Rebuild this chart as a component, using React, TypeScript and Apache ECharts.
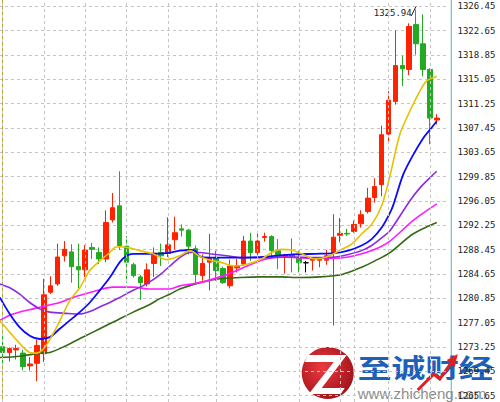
import React, { useEffect, useRef } from 'react';
import * as echarts from 'echarts';

// ---- data ----
const bars: string[] = Array.from({ length: 65 }, (_, i) => String(i + 1));

const opens = [1273.3, 1272.4, 1272.8, 1272.3, 1270.3, 1270.7, 1272.2, 1281.8, 1283.1, 1287.5,
  1288.1, 1285.8, 1285.3, 1288.8, 1288.0, 1287.0, 1293.1, 1295.3, 1289.0, 1286.1,
  1284.2, 1283.1, 1286.3, 1288.0, 1287.9, 1290.0, 1291.7, 1291.5, 1288.6, 1284.4,
  1286.5, 1287.2, 1285.5, 1282.8, 1285.6, 1286.2, 1289.8, 1288.0, 1290.35, 1290.5,
  1288.3, 1287.4, 1287.7, 1287.2, 1286.4, 1286.8, 1286.8, 1286.8, 1287.9, 1290.7,
  1291.0, 1291.3, 1292.5, 1294.4, 1296.6, 1298.6, 1306.5, 1311.6, 1317.2, 1316.6,
  1323.6, 1320.6, 1316.6, 1308.7];
const closes = [1272.4, 1273.0, 1273.0, 1270.2, 1270.6, 1273.5, 1281.4, 1282.8, 1287.3, 1288.5,
  1285.8, 1285.3, 1288.4, 1288.5, 1287.0, 1292.7, 1295.0, 1289.1, 1286.5, 1284.4,
  1283.3, 1285.3, 1287.9, 1287.5, 1289.2, 1291.1, 1291.5, 1289.0, 1284.6, 1286.3,
  1287.1, 1285.2, 1283.3, 1285.9, 1285.9, 1289.8, 1288.0, 1289.8, 1290.5, 1288.3,
  1287.6, 1287.6, 1287.3, 1286.4, 1286.4, 1286.95, 1287.0, 1287.5, 1290.4, 1291.0,
  1290.9, 1292.4, 1293.9, 1296.5, 1298.3, 1306.4, 1311.8, 1317.2, 1316.7, 1323.3,
  1320.6, 1316.6, 1309.0, 1309.0];
const lows = [1270.7, 1271.0, 1271.3, 1269.6, 1269.6, 1267.9, 1270.9, 1281.5, 1282.8, 1286.6,
  1283.3, 1282.4, 1284.2, 1287.0, 1286.2, 1286.5, 1292.7, 1288.4, 1283.3, 1284.1,
  1280.6, 1282.7, 1284.2, 1285.9, 1287.3, 1288.5, 1290.5, 1287.7, 1283.2, 1283.6,
  1282.1, 1283.6, 1283.1, 1282.4, 1284.9, 1285.9, 1286.7, 1287.5, 1289.7, 1287.5,
  1285.4, 1284.7, 1284.9, 1284.9, 1284.9, 1285.2, 1285.7, 1286.1, 1276.6, 1289.6,
  1290.6, 1291.1, 1291.9, 1294.1, 1295.8, 1296.8, 1305.4, 1311.1, 1314.0, 1315.7,
  1318.9, 1315.5, 1304.9, 1308.0];
const highs = [1275.0, 1273.2, 1273.6, 1272.8, 1271.7, 1274.4, 1283.9, 1284.3, 1289.4, 1289.8,
  1289.3, 1289.4, 1289.2, 1289.5, 1288.8, 1294.6, 1297.3, 1300.7, 1290.6, 1286.4,
  1284.5, 1286.3, 1288.8, 1289.4, 1293.5, 1293.6, 1292.4, 1291.7, 1289.1, 1287.7,
  1290.9, 1288.3, 1285.8, 1286.9, 1287.0, 1290.6, 1291.1, 1290.9, 1291.1, 1290.7,
  1290.1, 1287.8, 1290.2, 1288.3, 1286.7, 1287.1, 1287.2, 1288.4, 1294.0, 1293.4,
  1291.7, 1293.0, 1294.6, 1298.1, 1299.6, 1307.8, 1313.2, 1322.7, 1318.7, 1323.8,
  1325.94, 1325.2, 1316.8, 1309.6];

// moving averages: [bar position, price]
const maYellow = [[-0.39, 1277.4], [2.51, 1273.8], [3.96, 1272.4], [4.98, 1272.3], [6.14, 1273.2],
  [7.84, 1276.3], [9.77, 1280.5], [11.22, 1282.5], [12.67, 1285.2], [14.12, 1286.7], [15.57, 1288.0],
  [16.3, 1288.8], [17.02, 1288.9], [18.48, 1288.7], [19.93, 1288.3], [21.81, 1287.8], [23.8, 1286.9],
  [25.73, 1287.5], [27.18, 1288.3], [28.64, 1287.4], [30.09, 1286.8], [31.54, 1286.5], [33.72, 1285.9],
  [35.6, 1286.2], [37.59, 1287.0], [39.04, 1288.0], [40.49, 1288.5], [41.95, 1288.4], [43.4, 1287.8],
  [45.33, 1287.0], [47.22, 1287.4], [49.2, 1288.5], [50.65, 1289.3], [52.1, 1290.9], [53.56, 1292.4],
  [55.01, 1295.3], [56.21, 1300.0], [57.66, 1306.5], [59.11, 1310.1], [60.56, 1313.2], [61.54, 1314.8],
  [62.99, 1315.5]];
const maBlue = [[-0.39, 1281.0], [1.06, 1278.4], [2.51, 1276.3], [3.96, 1275.0], [5.41, 1274.5],
  [6.87, 1274.8], [8.32, 1276.1], [9.77, 1277.4], [11.22, 1278.7], [12.67, 1280.2], [14.12, 1282.1],
  [15.57, 1284.1], [17.02, 1286.5], [18.0, 1287.5], [18.96, 1287.8], [21.38, 1287.8], [23.8, 1287.9],
  [25.73, 1288.3], [27.18, 1288.4], [27.91, 1288.3], [28.64, 1287.4], [30.09, 1287.2], [32.51, 1287.2],
  [37.34, 1287.3], [42.18, 1287.7], [45.33, 1287.8], [48.23, 1287.9], [50.16, 1288.3], [52.1, 1289.1],
  [53.56, 1290.1], [55.01, 1291.9], [56.21, 1294.2], [56.69, 1295.4], [58.14, 1300.2], [59.6, 1303.3],
  [61.05, 1305.9], [62.02, 1307.2], [63.0, 1308.5]];
const maPurple = [[-0.39, 1283.1], [1.06, 1282.5], [2.51, 1281.5], [3.96, 1280.2], [5.41, 1279.2],
  [6.87, 1278.7], [9.29, 1278.5], [11.22, 1278.4], [12.67, 1278.8], [14.12, 1279.5], [15.57, 1280.2],
  [17.02, 1281.0], [18.96, 1282.1], [20.9, 1283.1], [22.83, 1284.5], [24.28, 1285.9], [25.73, 1287.2],
  [27.18, 1288.0], [28.64, 1288.0], [30.09, 1287.8], [32.51, 1287.5], [34.92, 1287.2], [37.34, 1287.2],
  [42.18, 1287.3], [45.33, 1287.2], [48.23, 1287.3], [50.16, 1287.7], [52.1, 1288.3], [53.56, 1289.1],
  [55.01, 1290.3], [56.21, 1291.4], [59.11, 1296.1], [60.56, 1298.1], [62.02, 1299.7], [63.0, 1300.7]];
const maMagenta = [[-0.39, 1277.4], [1.06, 1278.2], [2.51, 1278.7], [4.44, 1279.2], [6.39, 1279.7],
  [8.32, 1280.2], [10.25, 1281.0], [12.19, 1281.6], [14.12, 1282.2], [16.05, 1282.6], [18.96, 1282.6],
  [21.38, 1282.3], [24.28, 1282.3], [25.73, 1282.8], [28.64, 1283.3], [31.54, 1284.2], [34.44, 1285.4],
  [37.34, 1286.7], [38.79, 1287.1], [40.25, 1287.3], [45.33, 1287.1], [48.23, 1287.1], [50.16, 1287.3],
  [52.1, 1287.8], [54.03, 1288.5], [56.21, 1289.8], [59.55, 1293.0], [63.0, 1295.6]];
const maGreen = [[-0.39, 1271.6], [2.51, 1271.8], [5.41, 1272.3], [6.87, 1272.4], [9.29, 1273.5],
  [11.7, 1274.8], [14.12, 1276.1], [16.55, 1277.4], [18.96, 1278.7], [21.38, 1279.9], [22.83, 1280.8],
  [24.28, 1281.5], [25.73, 1282.3], [28.64, 1283.3], [31.54, 1283.9], [34.44, 1284.1], [37.34, 1284.2],
  [40.25, 1284.2], [43.15, 1284.1], [46.05, 1284.2], [48.96, 1284.5], [50.16, 1284.9], [52.1, 1285.7],
  [54.03, 1286.7], [56.21, 1288.0], [59.55, 1290.9], [63.0, 1292.7]];

// bars where the vertical grid lines fall
const gridBars = [0, 6, 12, 18, 24, 31, 37, 43, 49, 51, 56, 62];

// price axis
const yMin = 1261.85;
const yMax = 1330.25;
const yStep = 3.8;
const highLabel = '1325.94';

// the chart box is larger than the window so that the first and last grid rows fall outside it
const OX = 0.745;
const OY = 18;

export default function App() {
  const ref = useRef<HTMLDivElement>(null);
  useEffect(() => {
    if (!ref.current) return;
    const chart = echarts.init(ref.current, null, { renderer: 'svg' });
    const candleData = opens.map((o, i) => [o, closes[i], lows[i], highs[i]]);
    const ma = (data: number[][], color: string, width: number) => ({
      type: 'line',
      xAxisIndex: 1,
      data,
      smooth: 0.3,
      showSymbol: false,
      silent: true,
      lineStyle: { color, width },
    });
    chart.setOption({
      animation: false,
      backgroundColor: '#ffffff',
      grid: { left: 0, right: 52.9, top: 0, bottom: 0 },
      xAxis: [
        {
          type: 'category',
          data: bars,
          boundaryGap: true,
          axisLine: { show: false },
          axisTick: { show: false },
          axisLabel: { show: false },
          splitLine: { show: false },
        },
        { type: 'value', min: -0.5, max: 64.5, show: false },
      ],
      yAxis: {
        type: 'value',
        position: 'right',
        offset: 2.4,
        min: yMin,
        max: yMax,
        interval: yStep,
        axisLine: { show: true, lineStyle: { color: '#b9a53d', width: 1 } },
        axisTick: { show: false },
        axisLabel: {
          color: '#222',
          fontFamily: 'DejaVu Sans Mono',
          fontSize: 9,
          margin: 8,
          showMinLabel: false,
          showMaxLabel: false,
          formatter: (v: number) => v.toFixed(2),
        },
        splitLine: { show: true, lineStyle: { color: '#c4c4c4', type: [3, 3], width: 1 } },
      },
      series: [
        {
          type: 'candlestick',
          data: candleData,
          barWidth: 5,
          silent: true,
          itemStyle: {
            color: '#ff2200',
            color0: '#22aa22',
            borderColor: '#ff2200',
            borderColor0: '#22aa22',
            borderColorDoji: '#000000',
            borderWidth: 1,
          },
          markLine: {
            silent: true,
            symbol: ['none', 'none'],
            label: { show: false },
            lineStyle: { color: '#c4c4c4', type: [3, 3], width: 1 },
            data: gridBars.map((b) => ({ xAxis: b })),
          },
        },
        ma(maGreen, '#336a12', 1.6),
        ma(maMagenta, '#ff1aff', 1.6),
        ma(maPurple, '#8b2be2', 1.6),
        ma(maBlue, '#0a0aff', 1.8),
        ma(maYellow, '#e5c100', 1.6),
      ],
      graphic: [
        { type: 'line', shape: { x1: 451.5 + OX, y1: 0, x2: 451.5 + OX, y2: 402 + 2 * OY }, style: { stroke: '#5fb0b0', lineWidth: 1 }, silent: true },
        { type: 'text', x: 374 + OX, y: 13 + OY, style: { text: highLabel, fontFamily: 'DejaVu Sans Mono', fontSize: 9, fill: '#222', verticalAlign: 'middle' } },
        { type: 'line', shape: { x1: 411.5 + OX, y1: 16 + OY, x2: 416.5 + OX, y2: 6 + OY }, style: { stroke: '#222', lineWidth: 1 } },
        {
          type: 'circle',
          shape: { cx: 328 + OX, cy: 373 + OY, r: 26 },
          style: {
            fill: {
              type: 'radial', x: 0.4, y: 0.4, r: 0.7,
              colorStops: [{ offset: 0, color: '#ec3a40' }, { offset: 1, color: '#9a1016' }],
            },
          },
        },
        {
          type: 'polygon',
          x: OX, y: OY,
          shape: { points: [[308, 355], [347, 355], [322, 388], [345, 388], [341, 394], [309, 394], [334, 362], [305, 362]] },
          style: { fill: '#ffffff' },
        },
        {
          type: 'text', x: 358 + OX, y: 354 + OY, scaleX: 1.3,
          style: { text: '至诚财经', fontFamily: 'Noto Sans CJK SC', fontWeight: 'bold', fontSize: 26, fill: '#1e5fb8', verticalAlign: 'top' },
        },
        { type: 'polyline', x: OX, y: OY, shape: { points: [[418, 390], [434, 374], [440, 379], [452, 362]] }, style: { stroke: '#e02020', lineWidth: 3, fill: 'none' } },
        { type: 'polygon', x: OX, y: OY, shape: { points: [[458, 354], [447, 360], [455, 367]] }, style: { fill: '#e02020' } },
        {
          type: 'text', x: 358 + OX, y: 386 + OY,
          style: { text: 'www.zhicheng.com', fontFamily: 'Liberation Sans', fontSize: 15, fill: '#8c8c8c', verticalAlign: 'top' },
        },
      ],
    });
    return () => chart.dispose();
  }, []);
  return (
    <div
      ref={ref}
      style={{ position: 'fixed', left: -OX, top: -OY, width: 500 + OX, height: 402 + 2 * OY + 0.1 }}
    />
  );
}
